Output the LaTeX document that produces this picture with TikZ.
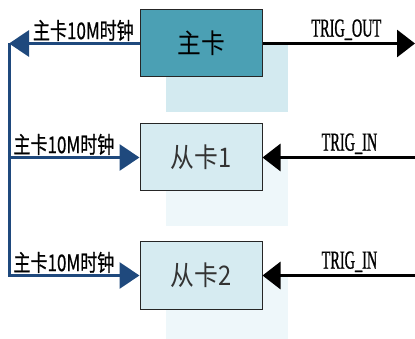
\documentclass[tikz,border=0pt]{standalone}
\usepackage{fontspec}
\newfontfamily\cjk[FakeStretch=0.88]{Noto Sans CJK SC}
\newfontfamily\cjklabel[FakeStretch=0.74,FakeBold=0.6]{Noto Sans CJK SC}
\newfontfamily\trig[FakeStretch=0.55,FakeBold=0.8]{Liberation Serif}
\usetikzlibrary{positioning,arrows.meta,shadows}

\definecolor{mainfill}{HTML}{4BA0B4}
\definecolor{mainshade}{HTML}{D3EAF0}
\definecolor{slavefill}{HTML}{D6EBF1}
\definecolor{slaveshade}{HTML}{EEF7FA}
\definecolor{clkblue}{HTML}{1F497D}

\begin{document}
\begin{tikzpicture}[x=1pt,y=-1pt,
  card/.style={draw=black!85,line width=1pt,minimum width=122pt,minimum height=67pt,
    inner sep=0pt,font=\cjk\fontsize{27}{30}\selectfont},
  maincard/.style={card,fill=mainfill,
    general shadow={fill=mainshade,shadow xshift=26pt,shadow yshift=-35pt}},
  slavecard/.style={card,fill=slavefill,text=black!80,
    general shadow={fill=slaveshade,shadow xshift=26pt,shadow yshift=-35pt}},
  clk/.style={clkblue,line width=3pt,-{Triangle[length=20pt,width=26pt]}},
  trigline/.style={black,line width=3pt,-{Triangle[length=18pt,width=27pt]}},
  clklabel/.style={black,inner sep=1pt,font=\cjklabel\fontsize{23}{26}\selectfont},
  triglabel/.style={black,inner sep=2pt,font=\trig\fontsize{26}{30}\selectfont}]
  \useasboundingbox (0,0) rectangle (415,339);

  \node[maincard] (main) at (201,43.5) {主卡};
  \node[slavecard, below=46pt of main] (slave1) {从卡1};
  \node[slavecard, below=50pt of slave1] (slave2) {从卡2};

  \coordinate (bus) at (9,43.5);
  \coordinate (edge) at (415,0);

  % 10M clock from the main card to the slave cards
  \draw[clk] (main.west) -- node[clklabel, above, pos=0.43] {主卡10M时钟} (bus);
  \draw[clk] (bus) |- node[clklabel, above right, pos=0.5, xshift=2pt] {主卡10M时钟} (slave1.west);
  \draw[clk] (bus) |- node[clklabel, above right, pos=0.5, xshift=2pt] {主卡10M时钟} (slave2.west);

  % trigger lines
  \draw[trigline] (main.east) -- node[triglabel, above, pos=0.55] {TRIG\_OUT} (main.east -| edge);
  \draw[trigline] (slave1.east -| edge) -- node[triglabel, above, pos=0.43] {TRIG\_IN} (slave1.east);
  \draw[trigline] (slave2.east -| edge) -- node[triglabel, above, pos=0.43] {TRIG\_IN} (slave2.east);
\end{tikzpicture}
\end{document}
